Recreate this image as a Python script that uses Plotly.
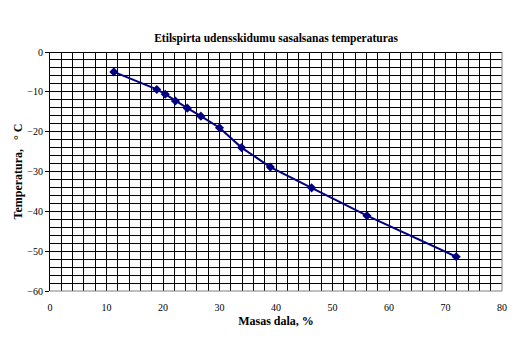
import plotly.graph_objects as go

# Mass fraction of ethanol (%) and freezing temperature (°C)
mass_fraction = [11.3, 18.9, 20.4, 22.2, 24.3, 26.7, 30.0, 33.9, 39.0, 46.3, 56.1, 71.9]
freeze_temp = [-5.0, -9.4, -10.6, -12.3, -14.1, -16.1, -19.0, -24.0, -28.9, -34.1, -41.1, -51.4]

x_ticks = [0, 10, 20, 30, 40, 50, 60, 70, 80]
y_ticks = [0, -10, -20, -30, -40, -50, -60]

serif = "Liberation Serif, Times New Roman, serif"

fig = go.Figure()
fig.add_trace(go.Scatter(
    x=mass_fraction, y=freeze_temp,
    mode="lines+markers",
    line=dict(color="#000080", width=2),
    marker=dict(symbol="diamond", size=7, color="#000080"),
    showlegend=False,
))

fig.update_layout(
    width=519, height=346,
    margin=dict(l=50, r=15, t=52, b=55),
    paper_bgcolor="white", plot_bgcolor="white",
    font=dict(family=serif, color="black", size=10),
    title=dict(
        text="<b>Etilspirta udensskidumu sasalsanas temperaturas</b>",
        x=0.532, xanchor="center", y=0.89, yanchor="middle",
        font=dict(family=serif, size=11.5, color="black"),
    ),
    xaxis=dict(
        range=[0, 80], tickvals=x_ticks, ticks="", showline=False,
        ticklabelstandoff=9,
        showgrid=True, gridcolor="black", gridwidth=1,
        minor=dict(dtick=2, showgrid=True, gridcolor="black", gridwidth=1),
        zeroline=False,
        title=dict(text="<b>Masas dala, %</b>", font=dict(family=serif, size=12), standoff=4),
        tickfont=dict(family=serif, size=10),
    ),
    yaxis=dict(
        range=[-60, 0], tickvals=y_ticks, ticks="outside", ticklen=4,
        tickcolor="black", showline=True, linecolor="black", linewidth=1,
        showgrid=True, gridcolor="black", gridwidth=1,
        minor=dict(dtick=2, showgrid=True, gridcolor="black", gridwidth=1),
        zeroline=True, zerolinecolor="black", zerolinewidth=1,
        title=dict(text="<b>Temperatura,   ° C</b>", font=dict(family=serif, size=12), standoff=2),
        tickfont=dict(family=serif, size=10),
    ),
    shapes=[
        dict(type="line", xref="paper", yref="paper", x0=1, x1=1, y0=0, y1=1,
             line=dict(color="#808080", width=1), layer="above"),
        dict(type="line", xref="paper", yref="paper", x0=0, x1=1, y0=0, y1=0,
             line=dict(color="#808080", width=1), layer="above"),
    ],
)

fig.write_html("out.html")
